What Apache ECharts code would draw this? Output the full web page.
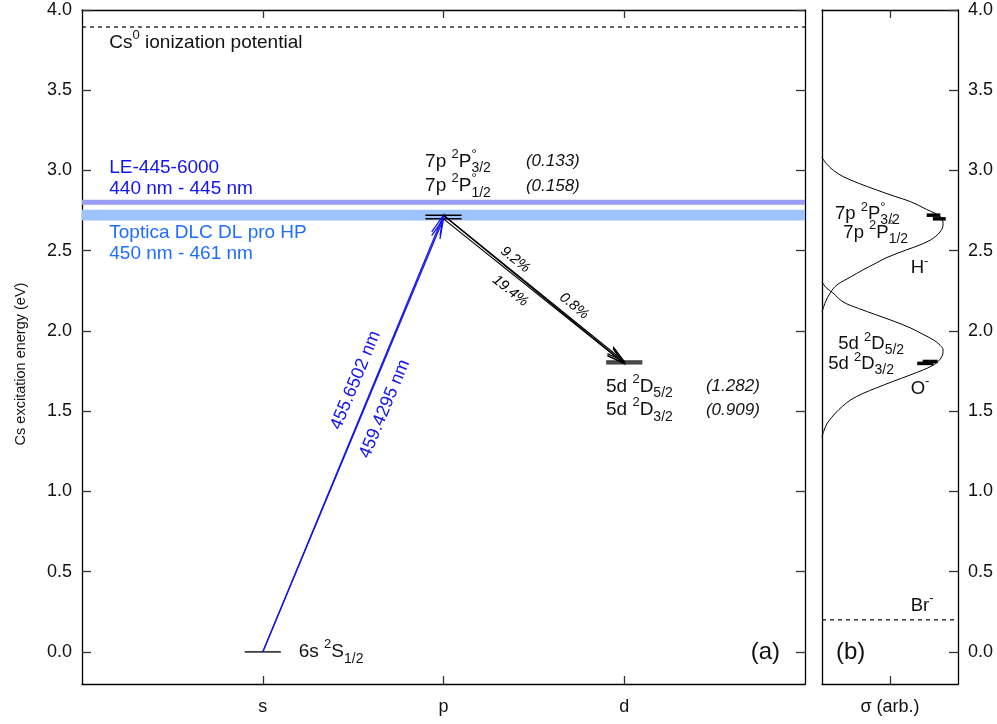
<!DOCTYPE html>
<html>
<head>
<meta charset="utf-8">
<script src="https://cdn.jsdelivr.net/npm/echarts@6/dist/echarts.min.js"></script>
<style>html,body{margin:0;padding:0;background:#fff}#c{width:997px;height:724px}</style>
</head>
<body>
<div id="c"></div>
<script>
// ================= DATA =================
const orbitalTicks = [1, 2, 3];
const orbitalLabels = ['s', 'p', 'd'];
const energyTicks = [0, 0.5, 1, 1.5, 2, 2.5, 3, 3.5, 4];
const sigmaTicks = [0.5];
const sigmaTickLabels = ['σ (arb.)'];

// Cs levels: 6s 2S1/2, 7p 2P3/2, 7p 2P1/2, 5d 2D5/2, 5d 2D3/2
const levelOrbital = [1, 2, 2, 3, 3];
const levelEnergy = [0, 2.7215, 2.6986, 1.8098, 1.7977];
const levelTerm = [
  '{b|6s }{sup|2}{b|S}{sub|1/2}',
  '{b|7p }{sup|2}{b|P}{deg|°}{sub|3/2}',
  '{b|7p }{sup|2}{b|P}{deg|°}{sub|1/2}',
  '{b|5d }{sup|2}{b|D}{sub|5/2}',
  '{b|5d }{sup|2}{b|D}{sub|3/2}'
];
const levelLifetime = ['', '(0.133)', '(0.158)', '(1.282)', '(0.909)'];

const ionizationEnergy = 3.894;
const ionizationText = '{b|Cs}{sup|0}{b| ionization potential}';
const bandLE = [2.786, 2.818];
const bandLEText = ['LE-445-6000', '440 nm - 445 nm'];
const bandToptica = [2.689, 2.755];
const bandTopticaText = ['Toptica DLC DL pro HP', '450 nm - 461 nm'];

const excitationFrom = [0, 0];
const excitationTo = [1, 2];
const excitationWavelength = ['455.6502 nm', '459.4295 nm'];

const decayFrom = [1, 1, 2];
const decayTo = [3, 4, 4];
const decayBranch = ['9.2%', '0.8%', '19.4%'];

// right panel: photodetachment cross sections (sigma, energy)
const hMinusEnergy = [3.08, 3.04, 3.00, 2.962, 2.92, 2.879, 2.84, 2.806, 2.757, 2.713, 2.670, 2.632, 2.579, 2.536, 2.505, 2.455, 2.424, 2.38, 2.336, 2.287, 2.237, 2.18, 2.118];
const hMinusSigma  = [0.00, 0.035, 0.085, 0.155, 0.27, 0.40, 0.53, 0.65, 0.77, 0.87, 0.89, 0.88, 0.82, 0.72, 0.62, 0.47, 0.40, 0.30, 0.21, 0.11, 0.06, 0.025, 0.00];
const oMinusEnergy = [2.305, 2.27, 2.237, 2.181, 2.14, 2.100, 2.06, 2.019, 1.98, 1.944, 1.91, 1.882, 1.838, 1.788, 1.726, 1.685, 1.645, 1.61, 1.570, 1.53, 1.489, 1.427, 1.38, 1.340];
const oMinusSigma  = [0.00, 0.03, 0.08, 0.155, 0.27, 0.40, 0.53, 0.65, 0.74, 0.82, 0.87, 0.89, 0.88, 0.82, 0.65, 0.52, 0.40, 0.30, 0.21, 0.15, 0.10, 0.04, 0.015, 0.00];
const brMinusEnergy = 0.2;
const anionNames = ['{b|H}{sup|-}', '{b|O}{sup|-}', '{b|Br}{sup|-}'];

// level markers in right panel (levels 1..4)
const markerLevel = [1, 2, 3, 4];
const markerSigmaStart = [0.77, 0.815, 0.74, 0.70];
const markerSigmaEnd   = [0.87, 0.91, 0.85, 0.82];

// ================= LAYOUT / STYLE =================
const FONT = "'Liberation Sans', Arial, Helvetica, sans-serif";
const BLUE = '#1414f0';
const BLUE2 = '#1f6eff';
const BAND_LE_COLOR = '#9a9df4';
const BAND_TOP_COLOR = '#9cc4fb';
const LEVEL_HALF = 0.1;
const TXT_X = 0.151;
const levelLabelPos = [[1.199, 0.0], [1.898, 3.056], [1.898, 2.902], [2.899, 1.653], [2.899, 1.508]];
const lifetimeX = [0, 2.456, 2.456, 3.452, 3.452];
const rightLevelLabelPos = [null, [0.096, 2.729], [0.157, 2.614], [0.12, 1.919], [0.046, 1.794]];
const anionLabelPos = [[0.652, 2.39], [0.652, 1.639], [0.652, 0.287]];
const excLabelT = [0.606, 0.578], excLabelOff = [18, -19];
const decLabelT = [0.36, 0.678, 0.42], decLabelOff = [10.5, 12.5, -14.5];

function rich(S, color) {
  const r = v => Math.round(v);
  const base = {fontFamily: FONT, fill: color};
  return {
    b:   Object.assign({fontSize: S, lineHeight: r(S * 1.47)}, base),
    it:  Object.assign({fontSize: r(S * 0.9), lineHeight: r(S * 1.47), fontStyle: 'italic'}, base),
    sup: Object.assign({fontSize: r(S * 0.68), lineHeight: r(S * 1.42), verticalAlign: 'top'}, base),
    sub: Object.assign({fontSize: r(S * 0.74), lineHeight: r(S * 0.86), verticalAlign: 'bottom'}, base),
    deg: Object.assign({fontSize: r(S * 0.68), lineHeight: r(S * 1.12), verticalAlign: 'top', width: 0}, base)
  };
}

// text items
const leftTexts = [];
leftTexts.push({pos: [TXT_X, 3.7935], text: ionizationText, size: 19, color: '#111'});
leftTexts.push({pos: [TXT_X, 3.019], text: '{b|' + bandLEText[0] + '}', size: 19, color: BLUE});
leftTexts.push({pos: [TXT_X, 2.889], text: '{b|' + bandLEText[1] + '}', size: 19, color: BLUE});
leftTexts.push({pos: [TXT_X, 2.613], text: '{b|' + bandTopticaText[0] + '}', size: 19, color: BLUE2});
leftTexts.push({pos: [TXT_X, 2.484], text: '{b|' + bandTopticaText[1] + '}', size: 19, color: BLUE2});
levelTerm.forEach((t, i) => {
  leftTexts.push({pos: levelLabelPos[i], text: t, size: 19, color: '#111'});
  if (levelLifetime[i]) leftTexts.push({pos: [lifetimeX[i], levelLabelPos[i][1]], text: '{it|' + levelLifetime[i] + '}', size: 19, color: '#111'});
});
leftTexts.push({pos: [3.70, 0.0], text: '{b|(a)}', size: 24, color: '#111'});

const rightTexts = [];
levelTerm.forEach((t, i) => {
  if (rightLevelLabelPos[i]) rightTexts.push({pos: rightLevelLabelPos[i], text: t, size: 18.5, color: '#111'});
});
anionNames.forEach((t, i) => rightTexts.push({pos: anionLabelPos[i], text: t, size: 18.5, color: '#111'}));
rightTexts.push({pos: [0.103, 0.0], text: '{b|(b)}', size: 24, color: '#111'});

function textSeries(items, xi, yi) {
  return {
    type: 'custom', xAxisIndex: xi, yAxisIndex: yi, silent: true, z: 10, clip: false,
    data: items.map(t => t.pos),
    renderItem: (params, api) => {
      const t = items[params.dataIndex];
      const p = api.coord([api.value(0), api.value(1)]);
      return {type: 'text', x: p[0], y: p[1],
        style: {text: t.text, rich: rich(t.size, t.color), align: 'left', verticalAlign: 'middle',
          fontFamily: FONT, fontSize: t.size, fill: t.color}};
    }
  };
}

function arrowEls(p1, p2, color, lw, len, half) {
  const dx = p2[0] - p1[0], dy = p2[1] - p1[1];
  const d = Math.hypot(dx, dy), ux = dx / d, uy = dy / d;
  const bx = p2[0] - ux * len, by = p2[1] - uy * len;
  const nx = -uy, ny = ux;
  return [
    {type: 'line', shape: {x1: p1[0], y1: p1[1], x2: p2[0], y2: p2[1]}, style: {stroke: color, lineWidth: lw, fill: 'none'}},
    {type: 'polyline', shape: {points: [[bx + nx * half, by + ny * half], [p2[0], p2[1]], [bx - nx * half, by - ny * half]]},
      style: {stroke: color, lineWidth: lw, fill: 'none'}}
  ];
}

function alongText(p1, p2, t, off, text, size, color, italic) {
  const dx = p2[0] - p1[0], dy = p2[1] - p1[1];
  const d = Math.hypot(dx, dy), ux = dx / d, uy = dy / d;
  const nx = uy, ny = -ux;
  return {type: 'text', x: p1[0] + dx * t + nx * off, y: p1[1] + dy * t + ny * off,
    rotation: Math.atan2(-dy, dx),
    style: {text: text, fontFamily: FONT, fontSize: size, fill: color, fontStyle: italic ? 'italic' : 'normal',
      align: 'center', verticalAlign: 'middle'}};
}

function arrowSeries(from, to, labels, tArr, offArr, color, lw, len, half, size, italic) {
  return {
    type: 'custom', xAxisIndex: 0, yAxisIndex: 0, silent: true, z: 6, clip: false,
    encode: {x: [0, 2], y: [1, 3]},
    data: from.map((f, k) => [levelOrbital[f], levelEnergy[f], levelOrbital[to[k]], levelEnergy[to[k]]]),
    renderItem: (params, api) => {
      const k = params.dataIndex;
      const p1 = api.coord([api.value(0), api.value(1)]);
      const p2 = api.coord([api.value(2), api.value(3)]);
      const els = arrowEls(p1, p2, color, lw, len, half);
      els.push(alongText(p1, p2, tArr[k], offArr[k], labels[k], size, color, italic));
      return {type: 'group', children: els};
    }
  };
}

const axisLineStyle = {color: '#000', width: 1.3};
const tickStyle = {color: '#333', width: 1.3};

function xAx(grid, pos, min, max, ticks, labels, showLabel) {
  return {
    gridIndex: grid, type: 'value', position: pos, min: min, max: max,
    axisLine: {show: true, onZero: false, lineStyle: axisLineStyle},
    axisTick: {show: true, inside: true, length: 8, customValues: ticks, lineStyle: tickStyle},
    axisLabel: {show: showLabel, customValues: ticks, margin: 14, fontSize: 18, color: '#111', fontFamily: FONT,
      formatter: v => labels[ticks.indexOf(v)] || ''},
    splitLine: {show: false}
  };
}
function yAx(grid, pos, showTick, showLabel, extra) {
  return Object.assign({
    gridIndex: grid, type: 'value', position: pos, min: -0.2, max: 4.0,
    axisLine: {show: true, onZero: false, lineStyle: axisLineStyle},
    axisTick: {show: showTick, inside: true, length: 9, customValues: energyTicks, lineStyle: tickStyle},
    axisLabel: {show: showLabel, customValues: energyTicks, margin: 10, fontSize: 18, color: '#111', fontFamily: FONT,
      formatter: v => v.toFixed(1)},
    splitLine: {show: false}
  }, extra || {});
}

const chart = echarts.init(document.getElementById('c'), null, {renderer: 'canvas'});
chart.setOption({
  animation: false,
  backgroundColor: '#fff',
  grid: [
    {left: 82, right: 192, top: 10, bottom: 40, containLabel: false},
    {left: 822, right: 39, top: 10, bottom: 40, containLabel: false}
  ],
  xAxis: [
    xAx(0, 'bottom', 0, 4, orbitalTicks, orbitalLabels, true),
    xAx(0, 'top', 0, 4, orbitalTicks, orbitalLabels, false),
    xAx(1, 'bottom', 0, 1, sigmaTicks, sigmaTickLabels, true),
    xAx(1, 'top', 0, 1, sigmaTicks, sigmaTickLabels, false)
  ],
  yAxis: [
    yAx(0, 'left', true, true, {name: 'Cs excitation energy (eV)', nameLocation: 'middle', nameGap: 54,
      nameTextStyle: {fontSize: 14.5, color: '#111', fontFamily: FONT, padding: [0, 34, 0, 0]}}),
    yAx(0, 'right', true, false),
    yAx(1, 'right', true, true),
    yAx(1, 'left', false, false)
  ],
  series: [
    // laser bands
    {
      type: 'custom', xAxisIndex: 0, yAxisIndex: 0, silent: true, z: 1,
      encode: {y: [0, 1]},
      data: [[bandLE[0], bandLE[1]], [bandToptica[0], bandToptica[1]]],
      renderItem: (params, api) => {
        const cs = params.coordSys;
        const a = api.coord([0, api.value(0)]), b = api.coord([0, api.value(1)]);
        return {type: 'rect', shape: {x: cs.x, y: b[1], width: cs.width, height: a[1] - b[1]},
          style: {fill: params.dataIndex === 0 ? BAND_LE_COLOR : BAND_TOP_COLOR}};
      }
    },
    // ionization potential (dashed)
    {
      type: 'custom', xAxisIndex: 0, yAxisIndex: 0, silent: true, z: 2, encode: {y: 0},
      data: [[ionizationEnergy]],
      renderItem: (params, api) => {
        const cs = params.coordSys;
        const p = api.coord([0, api.value(0)]);
        return {type: 'line', shape: {x1: cs.x, y1: p[1], x2: cs.x + cs.width, y2: p[1]},
          style: {stroke: '#000', lineWidth: 1.2, lineDash: [4, 4]}};
      }
    },
    // Br- threshold (dashed)
    {
      type: 'custom', xAxisIndex: 2, yAxisIndex: 2, silent: true, z: 2, encode: {y: 0},
      data: [[brMinusEnergy]],
      renderItem: (params, api) => {
        const cs = params.coordSys;
        const p = api.coord([0, api.value(0)]);
        return {type: 'line', shape: {x1: cs.x, y1: p[1], x2: cs.x + cs.width, y2: p[1]},
          style: {stroke: '#000', lineWidth: 1.2, lineDash: [4, 4]}};
      }
    },
    // levels
    {
      type: 'custom', xAxisIndex: 0, yAxisIndex: 0, silent: true, z: 4,
      data: levelOrbital.map((x, i) => [x, levelEnergy[i]]),
      renderItem: (params, api) => {
        const i = params.dataIndex;
        const x = api.value(0), e = api.value(1);
        const p1 = api.coord([x - LEVEL_HALF, e]), p2 = api.coord([x + LEVEL_HALF, e]);
        const gray = (i === 0 || i >= 3);
        return {type: 'line', shape: {x1: p1[0], y1: p1[1], x2: p2[0], y2: p2[1]},
          style: {stroke: gray ? '#3c3c3c' : '#000', lineWidth: i >= 3 ? 2.2 : (i === 0 ? 1.8 : 1.5)}};
      }
    },
    arrowSeries(excitationFrom, excitationTo, excitationWavelength, excLabelT, excLabelOff, BLUE, 1.3, 20, 4.5, 18, false),
    arrowSeries(decayFrom, decayTo, decayBranch, decLabelT, decLabelOff, '#000', 1.2, 18, 4.5, 14.5, true),
    textSeries(leftTexts, 0, 0),
    // right panel curves
    {type: 'line', xAxisIndex: 2, yAxisIndex: 2, silent: true, z: 3, symbol: 'none', smooth: 0.35,
      lineStyle: {color: '#000', width: 1}, data: hMinusSigma.map((s, i) => [s, hMinusEnergy[i]])},
    {type: 'line', xAxisIndex: 2, yAxisIndex: 2, silent: true, z: 3, symbol: 'none', smooth: 0.35,
      lineStyle: {color: '#000', width: 1}, data: oMinusSigma.map((s, i) => [s, oMinusEnergy[i]])},
    // level markers in right panel
    {
      type: 'custom', xAxisIndex: 2, yAxisIndex: 2, silent: true, z: 5,
      encode: {x: [0, 1], y: 2},
      data: markerLevel.map((l, k) => [markerSigmaStart[k], markerSigmaEnd[k], levelEnergy[l]]),
      renderItem: (params, api) => {
        const p1 = api.coord([api.value(0), api.value(2)]), p2 = api.coord([api.value(1), api.value(2)]);
        return {type: 'line', shape: {x1: p1[0], y1: p1[1], x2: p2[0], y2: p2[1]},
          style: {stroke: '#000', lineWidth: 3.5}};
      }
    },
    textSeries(rightTexts, 2, 2)
  ]
});
</script>
</body>
</html>
